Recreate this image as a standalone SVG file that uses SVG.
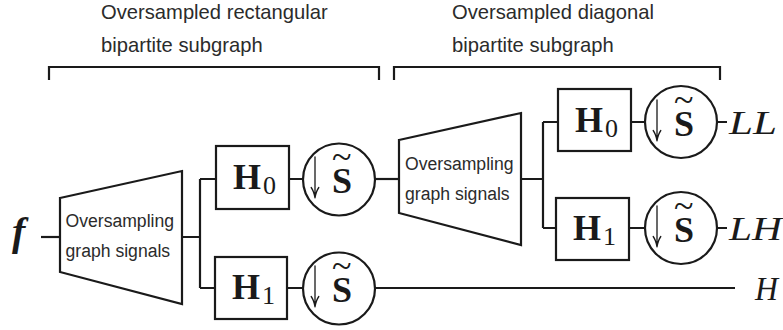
<svg xmlns="http://www.w3.org/2000/svg" width="783" height="330" viewBox="0 0 783 330">
  <style>
    .ln { fill: none; stroke: #1a1a1a; stroke-width: 2.2; }
    .bx { fill: #ffffff; stroke: #1a1a1a; stroke-width: 2.2; }
    .cap { font-family: "Liberation Sans", Arial, sans-serif; font-size: 20.2px; fill: #2b2b2b; }
    .tz { font-family: "Liberation Sans", Arial, sans-serif; font-size: 17.6px; fill: #2b2b2b; }
    .hb { font-family: "Liberation Serif", "Times New Roman", serif; font-weight: bold; font-size: 36px; fill: #1a1a1a; }
    .sub { font-family: "Liberation Serif", "Times New Roman", serif; font-size: 26px; fill: #1a1a1a; }
    .it { font-family: "Liberation Serif", "Times New Roman", serif; font-style: italic; font-size: 34px; fill: #1a1a1a; }
    .tld { font-family: "Liberation Serif", "Times New Roman", serif; font-weight: normal; font-size: 36px; }
  </style>
  <defs>
    <!-- thin downward arrow (downsampling symbol), origin at the circle's vertical centre -->
    <path id="dn" d="M0,-22 V18 M-3.8,8.5 Q-1.2,12 0,18.8 M3.8,8.5 Q1.2,12 0,18.8" fill="none" stroke="#1a1a1a" stroke-width="1.3" stroke-linecap="round"/>
  </defs>

  <!-- section captions and brackets -->
  <g id="caption-rect">
    <text class="cap" x="101" y="19">Oversampled rectangular</text>
    <text class="cap" x="101" y="52">bipartite subgraph</text>
    <path class="ln" d="M49,80 V67 H379 V80" stroke-width="2.6"/>
  </g>
  <g id="caption-diag">
    <text class="cap" x="452" y="19">Oversampled diagonal</text>
    <text class="cap" x="452" y="52">bipartite subgraph</text>
    <path class="ln" d="M394,80 V67 H720 V80" stroke-width="2.6"/>
  </g>

  <!-- connectors -->
  <g id="connectors">
    <path class="ln" d="M41,237 H60"/>
    <path class="ln" d="M182,237 H200 M200,179 V288 M200,179 H216 M200,288 H215"/>
    <path class="ln" d="M289,179 H303 M287,288 H303"/>
    <path class="ln" d="M375,179 H399"/>
    <path class="ln" d="M375,288 H735"/>
    <path class="ln" d="M521,179 H543 M543,122 V228 M543,122 H558 M543,228 H556"/>
    <path class="ln" d="M631,122 H645 M629,228 H645"/>
    <path class="ln" d="M717,122 H727 M717,228 H727"/>
  </g>

  <!-- input signal -->
  <g id="input-f">
    <text x="12" y="245" font-family="Liberation Serif, Times New Roman, serif" font-weight="bold" font-style="italic" font-size="40" fill="#1a1a1a">f</text>
  </g>

  <!-- first oversampling stage -->
  <g id="oversample-1">
    <polygon class="bx" points="60,198 182,171 182,304 60,272"/>
    <text class="tz" x="65.5" y="227">Oversampling</text>
    <text class="tz" x="65.5" y="257">graph signals</text>
  </g>

  <g id="h0-a">
    <rect class="bx" x="216" y="146" width="73" height="63"/>
    <text class="hb" x="233" y="189">H</text>
    <text class="sub" x="263" y="194">0</text>
  </g>
  <g id="h1-a">
    <rect class="bx" x="215" y="257" width="72" height="62"/>
    <text class="hb" x="232" y="299">H</text>
    <text class="sub" x="262" y="304">1</text>
  </g>

  <!-- downsampling: arrow, then bold S with a wide tilde above it -->
  <g id="down-a0">
    <circle class="bx" cx="339" cy="179.5" r="36"/>
    <use href="#dn" x="315" y="179"/>
    <text class="hb" x="332" y="193">S<tspan class="tld" dx="-20" dy="-24">~</tspan></text>
  </g>
  <g id="down-a1">
    <circle class="bx" cx="339" cy="288.5" r="36"/>
    <use href="#dn" x="315" y="288"/>
    <text class="hb" x="332" y="302">S<tspan class="tld" dx="-20" dy="-24">~</tspan></text>
  </g>

  <!-- second oversampling stage -->
  <g id="oversample-2">
    <polygon class="bx" points="399,140 521,113 521,245 399,213"/>
    <text class="tz" x="405" y="170">Oversampling</text>
    <text class="tz" x="405" y="200">graph signals</text>
  </g>

  <g id="h0-b">
    <rect class="bx" x="558" y="89" width="73" height="62"/>
    <text class="hb" x="575" y="132">H</text>
    <text class="sub" x="605" y="137">0</text>
  </g>
  <g id="h1-b">
    <rect class="bx" x="556" y="198" width="73" height="62"/>
    <text class="hb" x="573" y="240">H</text>
    <text class="sub" x="603" y="245">1</text>
  </g>

  <g id="down-b0">
    <circle class="bx" cx="681" cy="122" r="36"/>
    <use href="#dn" x="657" y="122"/>
    <text class="hb" x="674" y="136">S<tspan class="tld" dx="-20" dy="-24">~</tspan></text>
  </g>
  <g id="down-b1">
    <circle class="bx" cx="681" cy="228" r="36"/>
    <use href="#dn" x="657" y="228"/>
    <text class="hb" x="674" y="242">S<tspan class="tld" dx="-20" dy="-24">~</tspan></text>
  </g>

  <!-- outputs -->
  <g id="out-ll">
    <text class="it" x="729" y="134" textLength="48" lengthAdjust="spacingAndGlyphs">LL</text>
  </g>
  <g id="out-lh">
    <text class="it" x="729" y="240" textLength="53" lengthAdjust="spacingAndGlyphs">LH</text>
  </g>
  <g id="out-h">
    <text class="it" x="755" y="300" textLength="23" lengthAdjust="spacingAndGlyphs">H</text>
  </g>
</svg>
